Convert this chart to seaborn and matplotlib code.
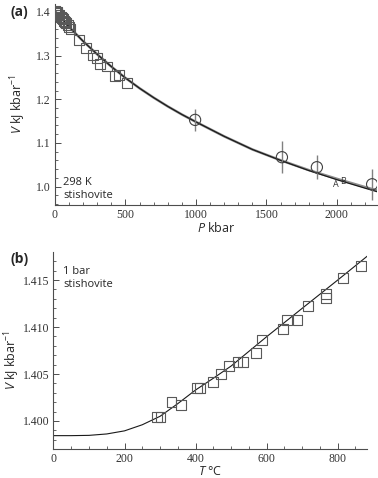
import numpy as np
import pandas as pd
import seaborn as sns
import matplotlib.pyplot as plt
from matplotlib.ticker import MultipleLocator

# ---- data: panel (a), 298 K compression of stishovite
sq_p = [0, 6, 12, 18, 25, 32, 40, 48, 56, 64, 72, 80, 90, 100, 110,
        172, 220, 268, 296, 320, 367, 426, 457, 512]
sq_v = [1.403, 1.401, 1.399, 1.397, 1.394, 1.392, 1.389, 1.386, 1.383, 1.380,
        1.377, 1.374, 1.370, 1.366, 1.361, 1.335, 1.317, 1.302, 1.295, 1.281,
        1.275, 1.254, 1.256, 1.237]

circ_p = [994, 1610, 1858, 2250]
circ_v = [1.1528, 1.0674, 1.0445, 1.0055]
circ_err = [0.025, 0.036, 0.027, 0.036]

curve_p = [0, 100, 200, 300, 400, 500, 600, 700, 800, 900, 1000,
           1200, 1400, 1600, 1800, 2000, 2200, 2290]
curve_a = [1.4017, 1.3657, 1.3327, 1.3027, 1.2747, 1.2487, 1.2252, 1.2037,
           1.1837, 1.1652, 1.1482, 1.1152, 1.0852, 1.0602, 1.0370, 1.0160,
           0.9965, 0.9880]
curve_b = [1.4017, 1.3657, 1.3327, 1.3027, 1.2747, 1.2487, 1.2252, 1.2037,
           1.1837, 1.1652, 1.1482, 1.1152, 1.0852, 1.0605, 1.0380, 1.0180,
           0.9990, 0.9910]

# ---- data: panel (b), 1 bar thermal expansion
sq_t = [292, 301, 332, 360, 405, 412, 448, 471, 494, 518, 534, 569, 586,
        645, 657, 687, 717, 766, 766, 815, 865]
sq_vt = [1.40046, 1.40046, 1.40199, 1.40170, 1.40348, 1.40348, 1.40412,
         1.40500, 1.40588, 1.40624, 1.40624, 1.40720, 1.40865, 1.40979,
         1.41074, 1.41074, 1.41223, 1.41351, 1.41305, 1.41518, 1.41649]

curve_t = [0, 50, 100, 150, 200, 250, 300, 350, 400, 450, 500,
           600, 700, 800, 885]
curve_vt = [1.39844, 1.39844, 1.39847, 1.39862, 1.39895, 1.39960, 1.40050,
            1.40185, 1.40330, 1.40455, 1.40585, 1.40897, 1.41199, 1.41500,
            1.41760]

sns.set_style("ticks")
plt.rcParams['font.family'] = ['Liberation Serif', 'DejaVu Serif']
plt.rcParams['mathtext.fontset'] = 'custom'
plt.rcParams['mathtext.rm'] = 'Open Sans'
plt.rcParams['mathtext.it'] = 'Open Sans:italic'

sans = 'Open Sans'
grey = '0.35'

fig = plt.figure(figsize=(3.78, 4.78), dpi=100)
ax1 = fig.add_axes([0.1455, 0.5711, 0.852, 0.4205])
ax2 = fig.add_axes([0.1415, 0.0607, 0.829, 0.412])


def style(ax):
    sns.despine(ax=ax)
    for s in ['left', 'bottom']:
        ax.spines[s].set_color('0.3')
        ax.spines[s].set_linewidth(0.8)
    ax.tick_params(which='major', direction='in', length=4, width=0.7,
                   labelsize=8.5, colors='0.3', labelcolor='0.2', pad=3)
    ax.tick_params(which='minor', direction='in', length=2.5, width=0.6,
                   colors='0.3')


# ---- panel (a)
sns.lineplot(x=curve_p, y=curve_b, ax=ax1, color='0.55', linewidth=1.8)
sns.lineplot(x=curve_p, y=curve_a, ax=ax1, color='0.1', linewidth=0.9)
sns.scatterplot(x=sq_p, y=sq_v, ax=ax1, marker='s', s=50,
                facecolor='none', edgecolor=grey, linewidth=0.8, zorder=3)
ax1.errorbar(circ_p, circ_v, yerr=circ_err, fmt='none', ecolor='0.5',
             elinewidth=1, zorder=2)
sns.scatterplot(x=circ_p, y=circ_v, ax=ax1, marker='o', s=65,
                facecolor='none', edgecolor='0.25', linewidth=0.8, zorder=3)

ax1.set_xlim(0, 2285)
ax1.set_ylim(0.958, 1.418)
ax1.xaxis.set_major_locator(MultipleLocator(500))
ax1.xaxis.set_minor_locator(MultipleLocator(100))
ax1.set_yticks([1.0, 1.1, 1.2, 1.3, 1.4])
ax1.set_yticklabels(['1.0', '1.1', '1.2', '1.3', '1.4'])
ax1.yaxis.set_minor_locator(MultipleLocator(0.02))
style(ax1)
ax1.set_xlabel(r'$\it{P}$ kbar', family=sans, fontsize=9, labelpad=0)
ax1.set_ylabel(r'$\it{V}$ kJ kbar$^{-1}$', family=sans, fontsize=9)
ax1.yaxis.set_label_coords(-0.084, 0.5)
ax1.text(60, 0.975, '298 K\nstishovite', family=sans, fontsize=8,
         color='0.15', linespacing=1.2)
ax1.text(1996, 1.004, 'A', family=sans, fontsize=6.5, color='0.2',
         ha='center', va='center')
ax1.text(2043, 1.0125, 'B', family=sans, fontsize=6.5, color='0.2',
         ha='center', va='center')
fig.text(0.028, 0.974, '(a)', family=sans, fontsize=10, fontweight='bold',
         va='center')

# ---- panel (b)
sns.lineplot(x=curve_t, y=curve_vt, ax=ax2, color='0.1', linewidth=0.8)
sns.scatterplot(x=sq_t, y=sq_vt, ax=ax2, marker='s', s=50,
                facecolor='none', edgecolor=grey, linewidth=0.8, zorder=3)
ax2.set_xlim(0, 882)
ax2.set_ylim(1.39702, 1.41798)
ax2.xaxis.set_major_locator(MultipleLocator(200))
ax2.xaxis.set_minor_locator(MultipleLocator(50))
ax2.set_yticks([1.400, 1.405, 1.410, 1.415])
ax2.set_yticklabels(['1.400', '1.405', '1.410', '1.415'])
ax2.yaxis.set_minor_locator(MultipleLocator(0.001))
style(ax2)
ax2.set_xlabel(r'$\it{T}$ °C', family=sans, fontsize=9, labelpad=0)
ax2.set_ylabel(r'$\it{V}$ kJ kbar$^{-1}$', family=sans, fontsize=9)
ax2.yaxis.set_label_coords(-0.1, 0.45)
ax2.text(28, 1.4143, '1 bar\nstishovite', family=sans, fontsize=8,
         color='0.15', linespacing=1.2)
fig.text(0.028, 0.459, '(b)', family=sans, fontsize=10, fontweight='bold',
         va='center')

fig.savefig('out.png', dpi=100)
